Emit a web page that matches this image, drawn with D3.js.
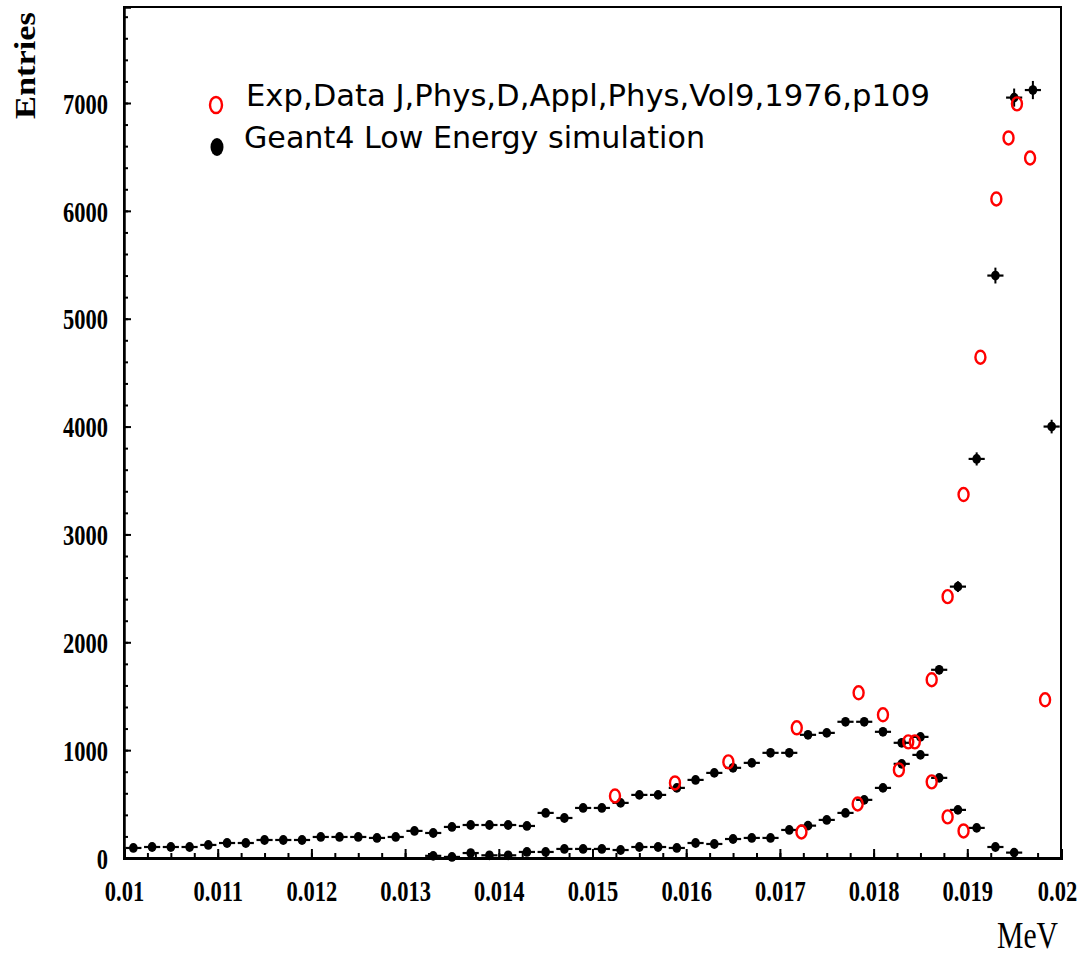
<!DOCTYPE html>
<html><head><meta charset="utf-8">
<script src="https://cdn.jsdelivr.net/npm/d3@7"></script>
<style>body{margin:0;background:#fff;} svg{display:block;}</style>
</head><body><svg id="c" width="1084" height="955"></svg>
<script>
// ---- data ----
const binCenters = [0.0101,0.0103,0.0105,0.0107,0.0109,0.0111,0.0113,0.0115,0.0117,0.0119,
  0.0121,0.0123,0.0125,0.0127,0.0129,0.0131,0.0133,0.0135,0.0137,0.0139,
  0.0141,0.0143,0.0145,0.0147,0.0149,0.0151,0.0153,0.0155,0.0157,0.0159,
  0.0161,0.0163,0.0165,0.0167,0.0169,0.0171,0.0173,0.0175,0.0177,0.0179,
  0.0181,0.0183,0.0185,0.0187,0.0189,0.0191,0.0193,0.0195,0.0197,0.0199];
const binHalfWidth = 0.0001;
const simA = [93,102,102,102,121,139,139,167,167,167,
  195,195,195,186,195,251,232,288,306,306,
  306,297,418,371,464,464,511,585,585,650,
  724,789,836,882,975,975,1142,1160,1263,1263,
  1170,1068,956,743,446,279,102,50,0,0];
const simB = [0,0,0,0,0,0,0,0,0,0,
  0,0,0,0,0,0,20,10,46,25,
  25,56,56,84,84,84,74,102,102,93,
  139,130,176,186,186,260,300,353,418,539,
  650,873,1123,1745,2516,3700,5400,7050,7120,4000];
const expEnergy = [0.01524,0.01588,0.01645,0.01718,0.01723,0.01783,0.01784,0.01810,0.01827,0.01837,
  0.01844,0.01862,0.01862,0.01879,0.01879,0.01896,0.01896,0.01914,0.01931,0.01944,
  0.01953,0.01967,0.01983];
const expCounts = [575,696,891,1207,241,501,1532,1328,817,1077,
  1077,1653,706,2423,381,3370,251,4643,6110,6676,
  6992,6490,1467];
const xTickValues = [0.01,0.011,0.012,0.013,0.014,0.015,0.016,0.017,0.018,0.019,0.02];
const xTickLabels = ["0.01","0.011","0.012","0.013","0.014","0.015","0.016","0.017","0.018","0.019","0.02"];
const yTickValues = [0,1000,2000,3000,4000,5000,6000,7000];
const yTickLabels = ["0","1000","2000","3000","4000","5000","6000","7000"];
const legendLabels = ["Exp,Data J,Phys,D,Appl,Phys,Vol9,1976,p109","Geant4 Low Energy simulation"];
const xTitle = "MeV", yTitle = "Entries";

// ---- chart ----
const svg = d3.select("#c");
const x = d3.scaleLinear().domain([0.01,0.02]).range([124,1061]);
const y = d3.scaleLinear().domain([0,7890]).range([858,7]);
const serif = "'Liberation Serif','Times New Roman',serif";

// frame
svg.append("rect").attr("x",124).attr("y",7).attr("width",937).attr("height",851)
  .attr("fill","none").attr("stroke","#000").attr("stroke-width",2);

// minor ticks
const xMinor = d3.range(0.01,0.02001,0.00025);
const yMinor = d3.range(0,7890,200);
svg.append("g").attr("transform","translate(0,858)")
  .call(d3.axisBottom(x).tickValues(xMinor).tickSize(-5).tickFormat(""))
  .call(g=>{g.select(".domain").remove(); g.selectAll("line").attr("stroke-width",2);});
svg.append("g").attr("transform","translate(124,0)")
  .call(d3.axisLeft(y).tickValues(yMinor).tickSize(-4).tickFormat(""))
  .call(g=>{g.select(".domain").remove(); g.selectAll("line").attr("stroke-width",2);});

// major x axis
const gx = svg.append("g").attr("transform","translate(0,858)")
  .call(d3.axisBottom(x).tickValues(xTickValues).tickSize(-9).tickFormat((d,i)=>xTickLabels[i]));
gx.select(".domain").attr("stroke-width",3);
gx.selectAll("line").attr("stroke-width",2);
gx.selectAll("text").attr("y",43).attr("dy",null)
  .attr("font-family",serif).attr("font-size",30).attr("font-weight","bold").attr("fill","#000");
gx.selectAll("text").filter((d,i,n)=>i===n.length-1).attr("x",-4);

// major y axis
const gy = svg.append("g").attr("transform","translate(124,0)")
  .call(d3.axisLeft(y).tickValues(yTickValues).tickSize(-7).tickFormat((d,i)=>yTickLabels[i]));
gy.select(".domain").attr("stroke-width",2.5);
gy.selectAll("line").attr("stroke-width",2);
gy.selectAll("text").attr("x",-16).attr("dy","0.34em")
  .attr("font-family",serif).attr("font-size",30).attr("font-weight","bold").attr("fill","#000");

// squeeze serif tick labels horizontally
svg.selectAll(".tick text").each(function(){
  const w = this.getComputedTextLength();
  if (w>0) d3.select(this).attr("textLength",w*0.75).attr("lengthAdjust","spacingAndGlyphs");
});

// axis titles
svg.append("text").attr("x",1058).attr("y",948).attr("text-anchor","end")
  .attr("font-family",serif).attr("font-size",38).attr("textLength",61)
  .attr("lengthAdjust","spacingAndGlyphs").text(xTitle);
svg.append("text").attr("transform","translate(35,119) scale(0.8,1) rotate(-90)")
  .attr("font-family",serif).attr("font-size",38).attr("font-weight","bold").attr("textLength",107)
  .attr("lengthAdjust","spacingAndGlyphs").text(yTitle);

// simulation histograms
const simSeries = [simA, simB];
const gSim = svg.append("g");
simSeries.forEach(vals=>{
  const pts = binCenters.map((e,i)=>({e, v: vals[i]})).filter(p=>p.v>0);
  const g = gSim.append("g");
  g.selectAll("line.h").data(pts).join("line")
    .attr("x1",p=>x(p.e-binHalfWidth)+1.3).attr("x2",p=>x(p.e+binHalfWidth)-1.3)
    .attr("y1",p=>y(p.v)).attr("y2",p=>y(p.v)).attr("stroke","#000").attr("stroke-width",2.2);
  g.selectAll("line.v").data(pts).join("line")
    .attr("x1",p=>x(p.e)).attr("x2",p=>x(p.e))
    .attr("y1",p=>y(p.v-Math.sqrt(p.v))).attr("y2",p=>y(p.v+Math.sqrt(p.v)))
    .attr("stroke","#000").attr("stroke-width",2);
  g.selectAll("ellipse").data(pts).join("ellipse")
    .attr("cx",p=>x(p.e)).attr("cy",p=>y(p.v)).attr("rx",4.3).attr("ry",4.9).attr("fill","#000");
});

// experimental data
svg.append("g").selectAll("ellipse").data(expEnergy.map((e,i)=>({e, v: expCounts[i]}))).join("ellipse")
  .attr("cx",p=>x(p.e)).attr("cy",p=>y(p.v)).attr("rx",5).attr("ry",6.5)
  .attr("fill","none").attr("stroke","#ff0000").attr("stroke-width",2.4);

// legend
const lg = svg.append("g");
lg.append("ellipse").attr("cx",216).attr("cy",105).attr("rx",6).attr("ry",8)
  .attr("fill","none").attr("stroke","#ff0000").attr("stroke-width",2.4);
lg.append("ellipse").attr("cx",217).attr("cy",147).attr("rx",6.5).attr("ry",9).attr("fill","#000");
lg.append("text").attr("x",246).attr("y",106).attr("font-family","'DejaVu Sans',sans-serif")
  .attr("font-size",31).attr("textLength",684).attr("lengthAdjust","spacingAndGlyphs").text(legendLabels[0]);
lg.append("text").attr("x",244).attr("y",148).attr("font-family","'DejaVu Sans',sans-serif")
  .attr("font-size",31).attr("textLength",461).attr("lengthAdjust","spacingAndGlyphs").text(legendLabels[1]);
</script>
</body></html>
